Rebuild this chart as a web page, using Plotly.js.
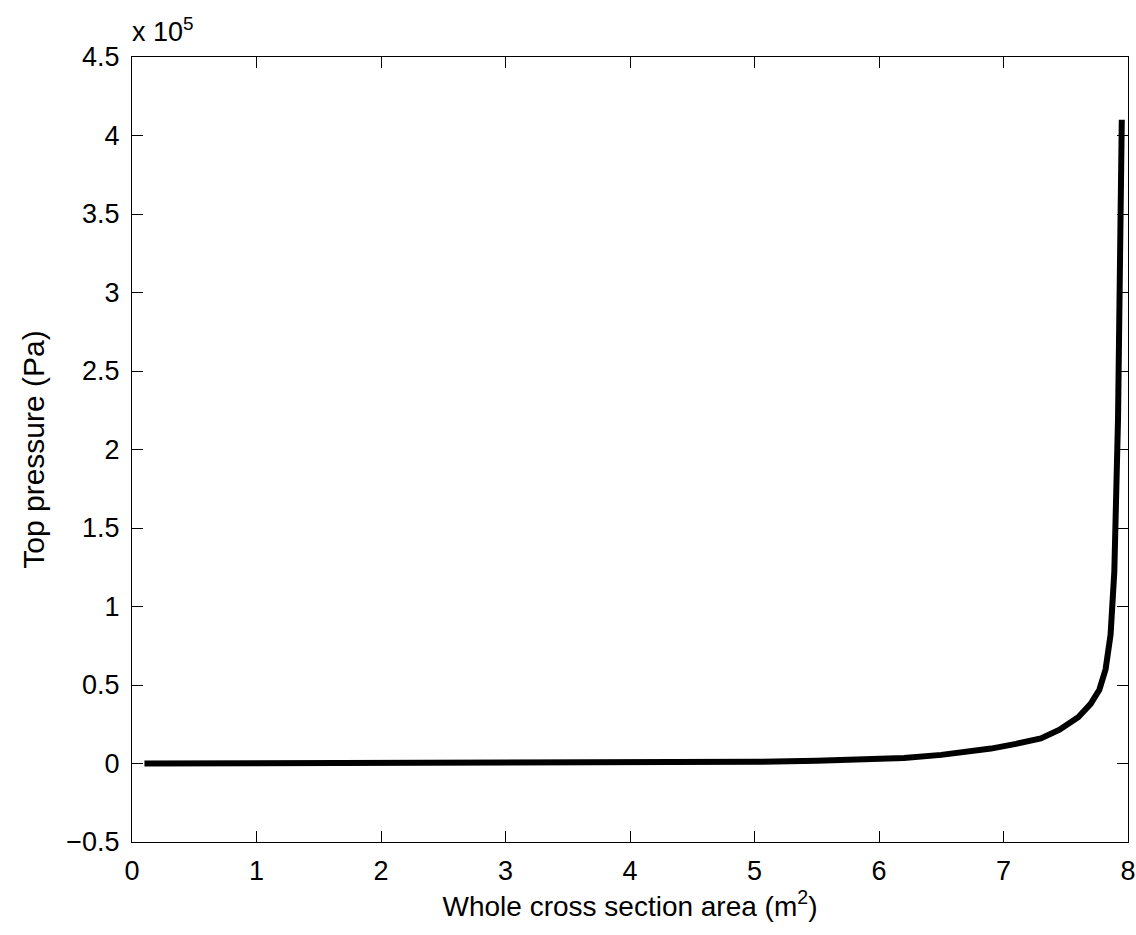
<!DOCTYPE html>
<html>
<head>
<meta charset="utf-8">
<script src="https://cdn.plot.ly/plotly-3.0.1.min.js"></script>
<style>html,body{margin:0;padding:0;background:#fff;}#chart{width:1136px;height:935px;}</style>
</head>
<body>
<div id="chart"></div>
<script>
// Whole cross section area (m^2)
const area = [0.1, 0.5, 1.0, 1.5, 2.0, 2.5, 3.0, 3.5, 4.0, 4.5, 5.0, 5.5, 6.0, 6.2, 6.5, 6.7, 6.9, 7.1, 7.3, 7.45, 7.6, 7.7, 7.77, 7.82, 7.86, 7.89, 7.92, 7.95];
// Top pressure (x 10^5 Pa)
const pressure = [0.0, 0.0002, 0.0005, 0.0008, 0.0012, 0.0018, 0.0025, 0.0035, 0.005, 0.007, 0.011, 0.017, 0.028, 0.035, 0.055, 0.072, 0.095, 0.125, 0.16, 0.215, 0.295, 0.38, 0.47, 0.6, 0.82, 1.22, 2.2, 4.1];
const xTicks = [0, 1, 2, 3, 4, 5, 6, 7, 8];
const yTicks = [-0.5, 0, 0.5, 1, 1.5, 2, 2.5, 3, 3.5, 4, 4.5];
const yTickText = ['\u22120.5', '0', '0.5', '1', '1.5', '2', '2.5', '3', '3.5', '4', '4.5'];

const font = 'Liberation Sans, Arial, sans-serif';
const trace = {
  x: area, y: pressure, type: 'scatter', mode: 'lines',
  line: {color: '#000', width: 6}, hoverinfo: 'skip'
};
const axisCommon = {
  showgrid: false, zeroline: false, showline: true, linecolor: '#000', linewidth: 1,
  mirror: 'ticks', ticks: 'inside', ticklen: 11, tickcolor: '#000', tickwidth: 1,
  tickfont: {family: font, size: 27, color: '#000'}
};
const layout = {
  width: 1136, height: 935,
  margin: {l: 132, r: 8, t: 57, b: 93},
  paper_bgcolor: '#fff', plot_bgcolor: '#fff',
  showlegend: false,
  font: {family: font, color: '#000'},
  xaxis: Object.assign({}, axisCommon, {
    range: [0, 8], tickvals: xTicks, ticktext: xTicks.map(String),
    ticklabelstandoff: 5,
    title: {text: 'Whole cross section area (m<sup>2</sup>)', font: {family: font, size: 28, color: '#000'}, standoff: 0}
  }),
  yaxis: Object.assign({}, axisCommon, {
    range: [-0.5, 4.5], tickvals: yTicks, ticktext: yTickText,
    ticklabelstandoff: 6,
    title: {text: 'Top pressure (Pa)', font: {family: font, size: 30, color: '#000'}, standoff: 12}
  }),
  annotations: [{
    text: 'x 10<sup>5</sup>', xref: 'paper', yref: 'paper', x: 0, y: 1,
    xanchor: 'left', yanchor: 'bottom', showarrow: false, yshift: 8, xshift: -2,
    font: {family: font, size: 27, color: '#000'}
  }]
};
Plotly.newPlot('chart', [trace], layout, {staticPlot: true, displayModeBar: false});
</script>
</body>
</html>
